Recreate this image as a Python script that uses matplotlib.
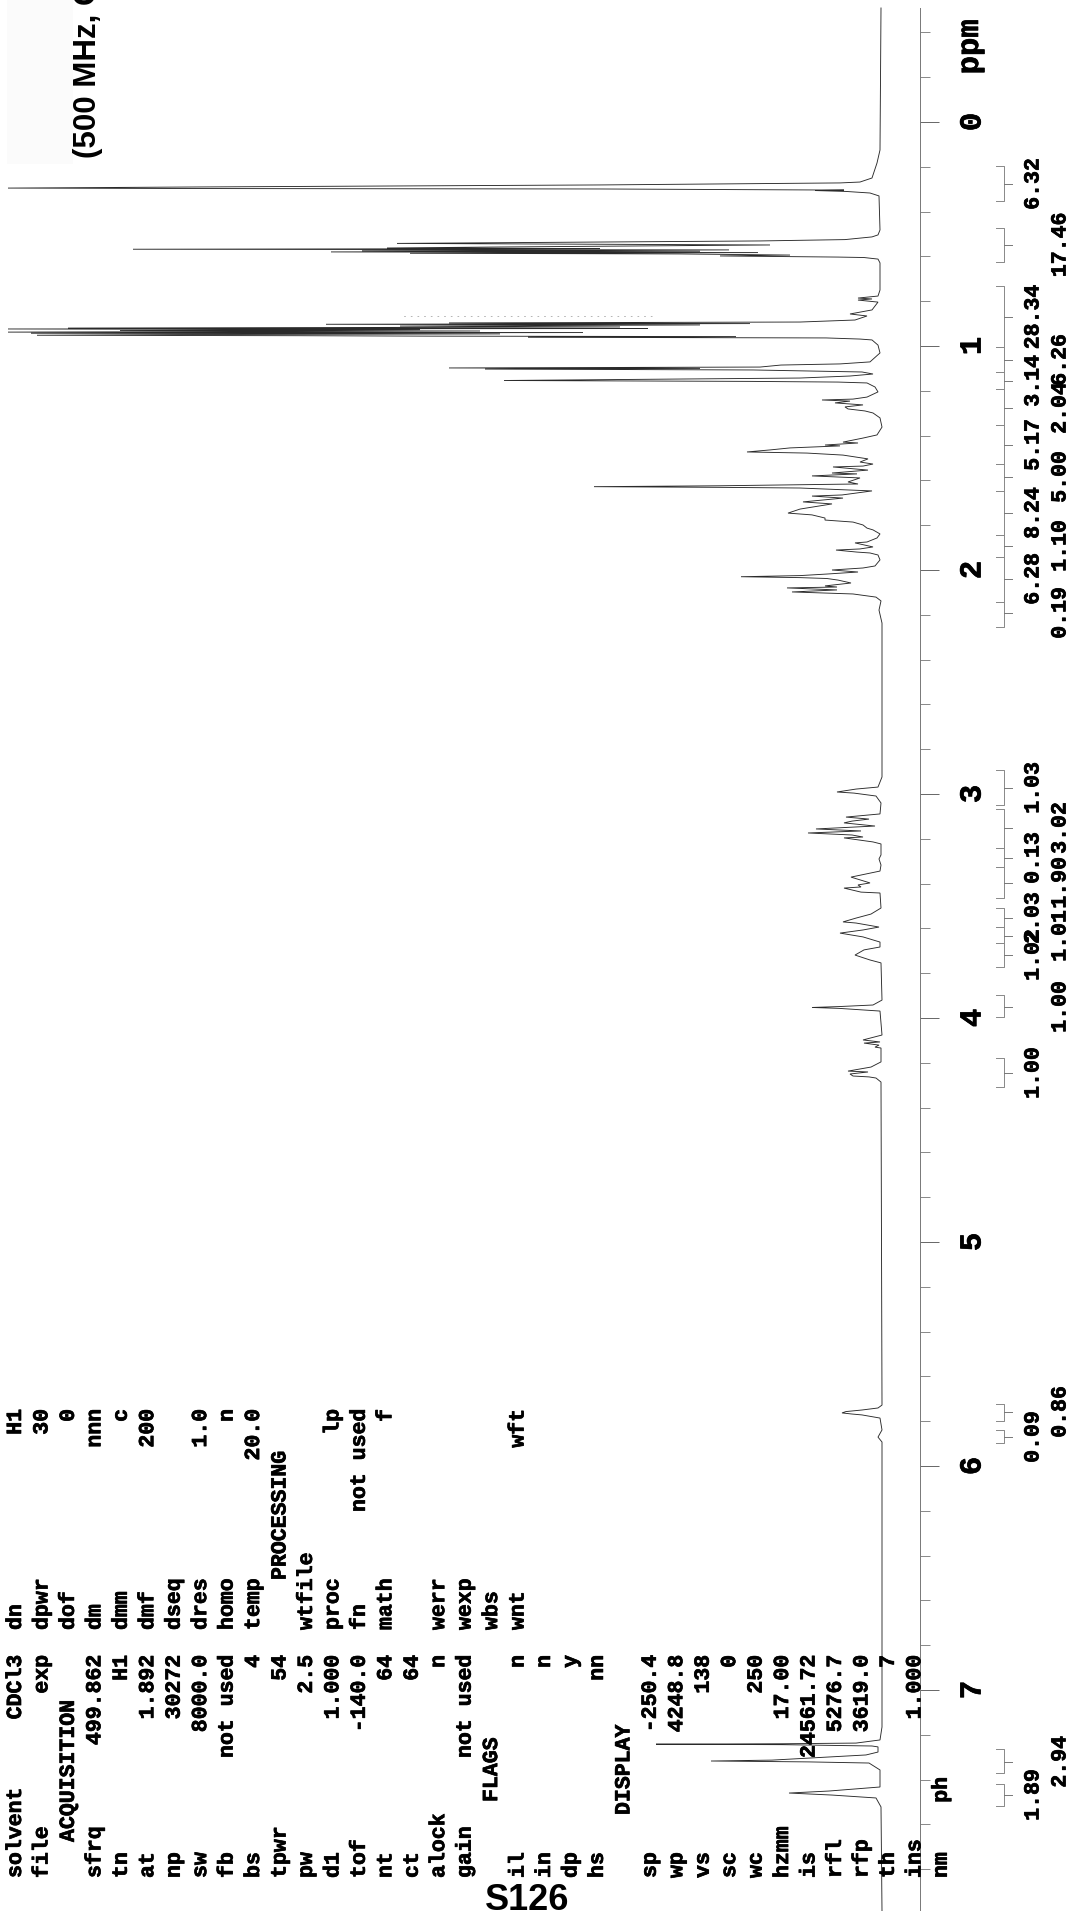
import numpy as np
import matplotlib
matplotlib.use("Agg")
import matplotlib.pyplot as plt
import matplotlib.patheffects as pe
from matplotlib.patches import Rectangle

W, H = 1069, 1911
MONO = "Liberation Mono"
SANS = "Liberation Sans"
HEAVY = [pe.withStroke(linewidth=0.5, foreground="black")]

# (ppm, intensity)
trace_0 = [(-0.509,1),(0.125,2),(0.183,5),(0.25,10),(0.268,22),(0.272,42),(0.281,282),(0.29,682),(0.295,874),
           (0.297,682),(0.299,282),(0.304,38),(0.306,67),(0.31,36),(0.317,12),(0.33,3),(0.482,2)]
trace_05 = [(0.504,4),(0.513,10),(0.525,37),(0.531,122),(0.542,485),(0.549,112),(0.558,382),(0.5625,495),(0.565,282),
            (0.568,749),(0.571,153),(0.575,520),(0.577,182),(0.58,551),(0.583,124),(0.586,472),(0.589,202),(0.594,92),
            (0.598,162),(0.603,44),(0.605,18),(0.612,4),(0.629,2),(0.75,2)]
trace_09 = [(0.777,4),(0.786,24),(0.79,10),(0.795,24),(0.804,4),(0.839,10),(0.857,32),(0.866,15),(0.884,27),(0.893,82),
            (0.897,433),(0.9,132),(0.903,556),(0.906,182),(0.911,482),(0.915,262),(0.92,814),(0.922,234),(0.924,874),
            (0.927,462),(0.931,762),(0.933,402),(0.938,874),(0.94,299),(0.943,851),(0.946,382),(0.949,702),(0.952,845),
            (0.954,582),(0.956,452),(0.958,146),(0.961,354),(0.964,56),(0.969,22),(0.973,10),(0.996,4),(1.031,2)]
trace_11 = [(1.071,12),(1.08,42),(1.085,101),(1.094,122),(1.098,433),(1.1,182),(1.103,397),(1.107,129),(1.116,20),
            (1.125,9),(1.134,32),(1.143,82),(1.154,378),(1.158,132),(1.161,44),(1.165,15),(1.183,7),(1.205,4)]
trace_14 = [(1.228,15),(1.237,29),(1.241,60),(1.246,32),(1.254,47),(1.263,19),(1.272,37),(1.281,34),(1.29,17),(1.299,9),
            (1.321,2),(1.362,0),(1.397,5),(1.411,19),(1.429,39),(1.433,24),(1.442,57),(1.446,42),(1.455,92),(1.464,112),
            (1.473,135),(1.478,75),(1.487,39),(1.504,14),(1.518,22),(1.527,9),(1.536,19),(1.54,49),(1.554,14),(1.567,50),
            (1.571,25),(1.58,70),(1.589,22),(1.607,34),(1.616,24),(1.624,162),(1.628,288),(1.631,162),(1.634,82),(1.647,10)]
trace_18 = [(1.665,40),(1.67,70),(1.679,39),(1.696,79),(1.705,50),(1.728,82),(1.746,94),(1.754,70),(1.768,57),(1.777,57),
            (1.786,29),(1.799,19),(1.813,15),(1.821,9),(1.839,2),(1.857,5),(1.875,15),(1.879,27),(1.897,9),(1.906,22),
            (1.911,46),(1.92,25),(1.924,12),(1.933,4),(1.955,2)]
trace_20 = [(1.982,7),(1.991,19),(2.0,50),(2.009,24),(2.018,55),(2.025,82),(2.03,141),(2.034,82),(2.038,55),(2.045,44),
            (2.058,31),(2.071,57),(2.076,45),(2.08,95),(2.089,45),(2.098,90),(2.103,55),(2.107,29),(2.121,6),(2.138,1),
            (2.179,3),(2.237,0),(2.924,0)]
trace_30 = [(2.969,4),(2.978,26),(2.991,45),(2.996,28),(3.009,6),(3.04,1),(3.089,2),(3.098,24),(3.103,36),(3.112,13),
            (3.121,30),(3.129,38),(3.143,7),(3.156,66),(3.165,21),(3.174,74),(3.183,30),(3.192,19),(3.196,38),(3.214,9),
            (3.223,1),(3.272,1),(3.29,3),(3.317,1),(3.344,2)]
trace_35 = [(3.371,31),(3.397,12),(3.406,24),(3.415,21),(3.42,38),(3.438,21),(3.442,2),(3.509,1),(3.536,11),(3.554,26),
            (3.571,39),(3.576,26),(3.594,3),(3.607,19),(3.621,42),(3.638,19),(3.661,2),(3.683,2),(3.696,18),(3.719,27),
            (3.741,12),(3.754,1),(3.92,0)]
trace_40 = [(3.942,9),(3.949,43),(3.953,70),(3.957,43),(3.969,2),(4.076,0),(4.098,19),(4.107,2),(4.112,18),(4.121,3),
            (4.13,7),(4.134,1),(4.196,1),(4.219,11),(4.237,34),(4.241,14),(4.25,32),(4.259,29),(4.263,13),(4.268,6),
            (4.286,1),(5.688,0)]
trace_57 = [(5.728,0),(5.741,4),(5.75,20),(5.757,36),(5.763,40),(5.768,30),(5.772,20),(5.786,2),(5.839,0),(5.871,4),
            (5.893,0),(7.165,0)]
trace_72 = [(7.223,2),(7.237,26),(7.24,100),(7.242,226),(7.244,100),(7.25,10),(7.254,4),(7.277,4),(7.29,16),(7.304,73),
            (7.313,110),(7.317,171),(7.321,73),(7.326,13),(7.357,2),(7.433,2),(7.451,53),(7.46,93),(7.469,50),(7.482,6),
            (7.522,1),(7.987,0)]

# integral regions: start, end, tick position (ppm) and printed value
integral_start = [0.196,0.473,0.732,1.004,1.116,1.192,1.353,1.527,1.647,1.844,1.942,2.143,
                  2.893,3.067,3.241,3.326,3.509,3.594,3.665,3.897,4.179,5.723,5.839,7.263,7.42]
integral_end = [0.353,0.625,1.004,1.116,1.192,1.353,1.527,1.647,1.844,1.942,2.143,2.254,
                3.049,3.241,3.326,3.464,3.594,3.665,3.772,3.996,4.308,5.799,5.897,7.371,7.518]
integral_mid = [0.277,0.549,0.871,1.0625,1.156,1.277,1.442,1.585,1.746,1.893,2.04,2.192,
                2.973,3.152,3.286,3.397,3.554,3.634,3.719,3.951,4.246,5.759,5.871,7.321,7.469]
integral_labels = ["6.32","17.46","28.34","6.26","3.14","2.04","5.17","5.00","8.24","1.10","6.28","0.19",
                   "1.03","3.02","0.13","1.90","2.03","1.01","1.02","1.00","1.00","0.86","0.09","2.94","1.89"]

major_ticks = [0,1,2,3,4,5,6,7]
minor_ticks = np.arange(-0.4, 7.9, 0.2)

# parameter printout, one list per column, rows counted across the page
col1_names = ["solvent","file","","sfrq","tn","at","np","sw","fb","bs","tpwr","pw","d1","tof","nt","ct","alock","gain",
              "","il","in","dp","hs","","sp","wp","vs","sc","wc","hzmm","is","rfl","rfp","th","ins","nm"]
col1_values = ["CDCl3","exp","","499.862","H1","1.892","30272","8000.0","not used","4","54","2.5","1.000","-140.0","64",
               "64","n","not used","","n","n","y","nn","","-250.4","4248.8","138","0","250","17.00","24561.72","5276.7",
               "3619.0","7","1.000",""]
col2_names = ["dn","dpwr","dof","dm","dmm","dmf","dseq","dres","homo","temp","","wtfile","proc","fn","math","","werr",
              "wexp","wbs","wnt"]
col2_values = ["H1","30","0","nnn","c","200","","1.0","n","20.0","","","lp","not used","f","","","","","wft"]
headers = [("ACQUISITION",2,1842),("FLAGS",18,1802),("DISPLAY",23,1815),("PROCESSING",10,1580)]


def tx(x):
    return x / W

def ty(y):
    return 1 - y / H

def row_x(i):
    return 15.5 + 26.45 * i

def main():
    fig = plt.figure(figsize=(W / 100, H / 100), dpi=100)
    ax = fig.add_axes([0, 0, 1, 1])
    ax.patch.set_alpha(0)

    segments = [trace_0, trace_05, trace_09, trace_11, trace_14, trace_18, trace_20, trace_30, trace_35,
                trace_40, trace_57, trace_72]
    trace = np.array([p for seg in segments for p in seg])
    ax.plot(trace[:, 1], trace[:, 0], color="#2a2a2a", lw=0.65, solid_joinstyle="miter")

    # intensity 0 sits at pixel 882, ppm scale from the 0 and 7 tick rows
    ax.set_xlim(882, 882 - W)
    ax.set_ylim((H - 122) / 224, -122 / 224)

    for s in ["top", "bottom", "left"]:
        ax.spines[s].set_visible(False)
    ax.spines["right"].set_position(("data", -38))
    ax.spines["right"].set_bounds(-0.509, (H - 122) / 224)
    ax.spines["right"].set_color("#777777")
    ax.spines["right"].set_linewidth(0.7)
    ax.xaxis.set_visible(False)
    ax.yaxis.tick_right()
    ax.set_yticks(major_ticks)
    ax.set_yticks(minor_ticks, minor=True)
    ax.set_yticklabels([str(t) for t in major_ticks], rotation=90, va="center", ha="left",
                       fontfamily=MONO, fontweight="bold", fontsize=22)
    for lab in ax.get_yticklabels():
        lab.set_path_effects(HEAVY)
    ax.tick_params(axis="y", which="major", length=14, width=0.7, color="#666666", pad=13)
    ax.tick_params(axis="y", which="minor", length=7.5, width=0.7, color="#888888")

    # integrals
    for i in range(len(integral_mid)):
        ax.plot([-114, -121.5, -121.5, -114], [integral_start[i], integral_start[i], integral_end[i], integral_end[i]],
                color="#888888", lw=0.7)
        ax.plot([-121.5, -130], [integral_mid[i], integral_mid[i]], color="#777777", lw=0.7)
        ax.text(-151 if i % 2 == 0 else -178, integral_mid[i], integral_labels[i], rotation=90, ha="center", va="center",
                family=MONO, fontweight="bold", fontsize=15.5, path_effects=HEAVY)

    # faint scan dots above the big methyl group
    ax.plot([230, 480], [0.865, 0.865], color="#aaaaaa", lw=0.6, dashes=(2, 6))

    fig.text(tx(970), ty(47), "ppm", rotation=90, ha="center", va="center", family=MONO, fontweight="bold", fontsize=22,
             path_effects=HEAVY)

    # printout columns
    tkw = dict(rotation=90, ha="center", family=MONO, fontweight="bold", fontsize=15.5, path_effects=HEAVY)
    for i, name in enumerate(col1_names):
        if name:
            fig.text(tx(row_x(i)), ty(1878), name, va="bottom", **tkw)
    for i, val in enumerate(col1_values):
        if val:
            fig.text(tx(row_x(i)), ty(1655), val, va="top", **tkw)
    for i, name in enumerate(col2_names):
        if name:
            fig.text(tx(row_x(i)), ty(1630), name, va="bottom", **tkw)
    for i, val in enumerate(col2_values):
        if val:
            fig.text(tx(row_x(i)), ty(1409), val, va="top", **tkw)
    for label, i, y in headers:
        fig.text(tx(row_x(i)), ty(y), label, va="bottom", **tkw)
    fig.text(tx(row_x(35)), ty(1777), "ph", va="top", **tkw)

    # caption pieces, the first one runs off the page
    fig.add_artist(Rectangle((tx(7), ty(164)), tx(66), 164 / H, transform=fig.transFigure, color="#fbfbfb", lw=0, zorder=-1))
    fig.text(tx(96), ty(158), "(500 MHz, CDCl3)", rotation=90, ha="left", va="baseline", rotation_mode="anchor",
             family=SANS, fontweight="bold", fontsize=22.5)
    fig.text(tx(527), ty(1910), "S126", ha="center", va="baseline", family=SANS, fontweight="bold", fontsize=26)

    fig.savefig("out.png", dpi=100)

if __name__ == "__main__":
    main()
